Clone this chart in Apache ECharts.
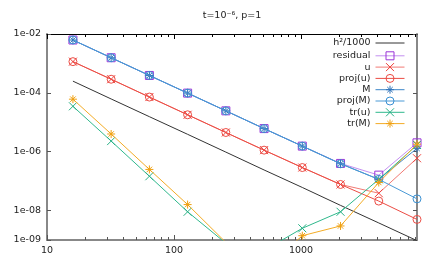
<!DOCTYPE html>
<html>
<head>
<meta charset="utf-8">
<script src="https://cdn.jsdelivr.net/npm/echarts@6/dist/echarts.min.js"></script>
<style>html,body{margin:0;padding:0;background:#fff}#c{width:436px;height:262px}</style>
</head>
<body>
<div id="c"></div>
<script>
// ---- data ----
const N = [16, 32, 64, 128, 256, 512, 1024, 2048, 4096, 8192];
const hRef     = [2.5e-4, 6.2e-5, 1.55e-5, 3.9e-6, 9.7e-7, 2.4e-7, 6.1e-8, 1.5e-8, 3.8e-9, 9.5e-10];
const residual = [6.25e-3, 1.56e-3, 3.9e-4, 9.8e-5, 2.45e-5, 6.1e-6, 1.55e-6, 4.0e-7, 1.6e-7, 2.0e-6];
const uErr     = [1.15e-3, 2.9e-4, 7.2e-5, 1.8e-5, 4.5e-6, 1.13e-6, 2.9e-7, 7.7e-8, 3.9e-8, 6.0e-7];
const projU    = [1.15e-3, 2.9e-4, 7.2e-5, 1.8e-5, 4.5e-6, 1.13e-6, 2.9e-7, 7.7e-8, 2.1e-8, 5.0e-9];
const mErr     = [6.25e-3, 1.56e-3, 3.9e-4, 9.8e-5, 2.45e-5, 6.1e-6, 1.55e-6, 3.9e-7, 1.15e-7, 1.3e-6];
const projM    = [6.25e-3, 1.56e-3, 3.9e-4, 9.8e-5, 2.45e-5, 6.1e-6, 1.55e-6, 3.9e-7, 1.15e-7, 2.5e-8];
const trU      = [3.5e-5, 2.3e-6, 1.47e-7, 9.1e-9, 7.8e-10, 4.4e-10, 2.5e-9, 9.1e-9, 1.15e-7, 1.7e-6];
const trM      = [6.1e-5, 4.0e-6, 2.5e-7, 1.6e-8, 8.3e-10, 1.0e-10, 1.4e-9, 3.0e-9, 9.0e-8, 1.8e-6];
const seriesNames = ['h²/1000', 'residual', 'u', 'proj(u)', 'M', 'proj(M)', 'tr(u)', 'tr(M)'];
const xMajor = [10, 100, 1000];
const xMinor = [20,30,40,50,60,70,80,90,200,300,400,500,600,700,800,900,2000,3000,4000,5000,6000,7000,8000];
const yTicks = [1e-9, 1e-8, 1e-6, 1e-4, 1e-2];
const titleText = 't=10⁻⁶, p=1';

// ---- styling ----
const FONT = 'DejaVu Sans';
const FS = 9.5;
const CROSS = 'path://M0,0L10,10M10,0L0,10';
const STAR = 'path://M5,0L5,10M0,5L10,5M1.6,1.6L8.4,8.4M8.4,1.6L1.6,8.4';
const styles = [
  {line: '#333333', mark: '#333333', symbol: 'none'},
  {line: '#c48ff0', mark: '#9b35d8', symbol: 'rect'},
  {line: '#f27a74', mark: '#ee3f3a', symbol: CROSS},
  {line: '#ec4c44', mark: '#ec4c44', symbol: 'circle'},
  {line: '#3c86c8', mark: '#2f72b8', symbol: STAR},
  {line: '#4a9ad6', mark: '#3a90d2', symbol: 'circle'},
  {line: '#2fb88c', mark: '#27b085', symbol: CROSS},
  {line: '#f3ac26', mark: '#f0a010', symbol: STAR}
];
const values = [hRef, residual, uErr, projU, mErr, projM, trU, trM];

const fmtY = v => { const e = Math.round(Math.log10(v)); return '1e-' + String(-e).padStart(2, '0'); };

const series = seriesNames.map((name, k) => ({
  name, type: 'line',
  xAxisIndex: 0, yAxisIndex: 0,
  data: N.map((n, i) => [n, values[k][i]]),
  symbol: styles[k].symbol,
  symbolSize: 8,
  showSymbol: styles[k].symbol !== 'none',
  clip: true,
  lineStyle: {color: styles[k].line, width: 1},
  itemStyle: {color: 'none', borderColor: styles[k].mark, borderWidth: 1},
  emphasis: {disabled: true},
  z: 2 + k
}));

const legendTop0 = 38, legendStep = 11.3;
const legends = seriesNames.map((name, k) => ({
  data: [{name, icon: 'inherit'}],
  orient: 'vertical',
  right: 31,
  top: legendTop0 + k * legendStep,
  padding: 0,
  align: 'right',
  itemWidth: 29,
  itemHeight: 10,
  selectedMode: false,
  itemStyle: k === 0
    ? {color: 'none', borderColor: 'none', borderWidth: 0}
    : {color: 'none', borderColor: styles[k].mark, borderWidth: 1},
  lineStyle: {color: styles[k].line, width: 1},
  textStyle: {fontFamily: FONT, fontSize: FS, color: '#222'}
}));

const logX = (extra) => Object.assign({type: 'log', logBase: 10, min: 10, max: 8192, gridIndex: 0, splitLine: {show: false}}, extra);
const logY = (extra) => Object.assign({type: 'log', logBase: 10, min: 1e-9, max: 1e-2, gridIndex: 0, splitLine: {show: false}}, extra);

const option = {
  animation: false,
  backgroundColor: '#fff',
  title: {
    text: titleText, left: 232, top: 11, padding: 0, textAlign: 'center',
    textStyle: {fontFamily: FONT, fontSize: FS, fontWeight: 'normal', color: '#222'}
  },
  legend: legends,
  grid: {left: 47, right: 19, top: 34, bottom: 22, containLabel: false},
  xAxis: [
    logX({position: 'bottom',
      axisLine: {show: true, lineStyle: {color: '#888', width: 2}},
      axisTick: {show: true, inside: true, length: 5, customValues: xMajor, lineStyle: {color: '#555'}},
      axisLabel: {show: true, customValues: xMajor, formatter: v => String(Math.round(v)), fontFamily: FONT, fontSize: FS, color: '#222', margin: 6}}),
    logX({position: 'bottom',
      axisLine: {show: false},
      axisTick: {show: true, inside: true, length: 3, customValues: xMinor, lineStyle: {color: '#555'}},
      axisLabel: {show: false}}),
    logX({position: 'top',
      axisLine: {show: true, lineStyle: {color: '#000', width: 1}},
      axisTick: {show: true, inside: true, length: 5, customValues: xMajor, lineStyle: {color: '#000'}},
      axisLabel: {show: false}}),
    logX({position: 'top',
      axisLine: {show: false},
      axisTick: {show: true, inside: true, length: 3, customValues: xMinor, lineStyle: {color: '#000'}},
      axisLabel: {show: false}})
  ],
  yAxis: [
    logY({position: 'left',
      axisLine: {show: true, lineStyle: {color: '#888', width: 2}},
      axisTick: {show: true, inside: true, length: 4, customValues: yTicks, lineStyle: {color: '#555'}},
      axisLabel: {show: true, customValues: yTicks, formatter: fmtY, fontFamily: FONT, fontSize: FS, color: '#222', margin: 6}}),
    logY({position: 'right',
      axisLine: {show: true, lineStyle: {color: '#888', width: 2}},
      axisTick: {show: true, inside: true, length: 4, customValues: yTicks, lineStyle: {color: '#555'}},
      axisLabel: {show: false}})
  ],
  series
};

const chart = echarts.init(document.getElementById('c'), null, {renderer: 'canvas'});
chart.setOption(option);
</script>
</body>
</html>
